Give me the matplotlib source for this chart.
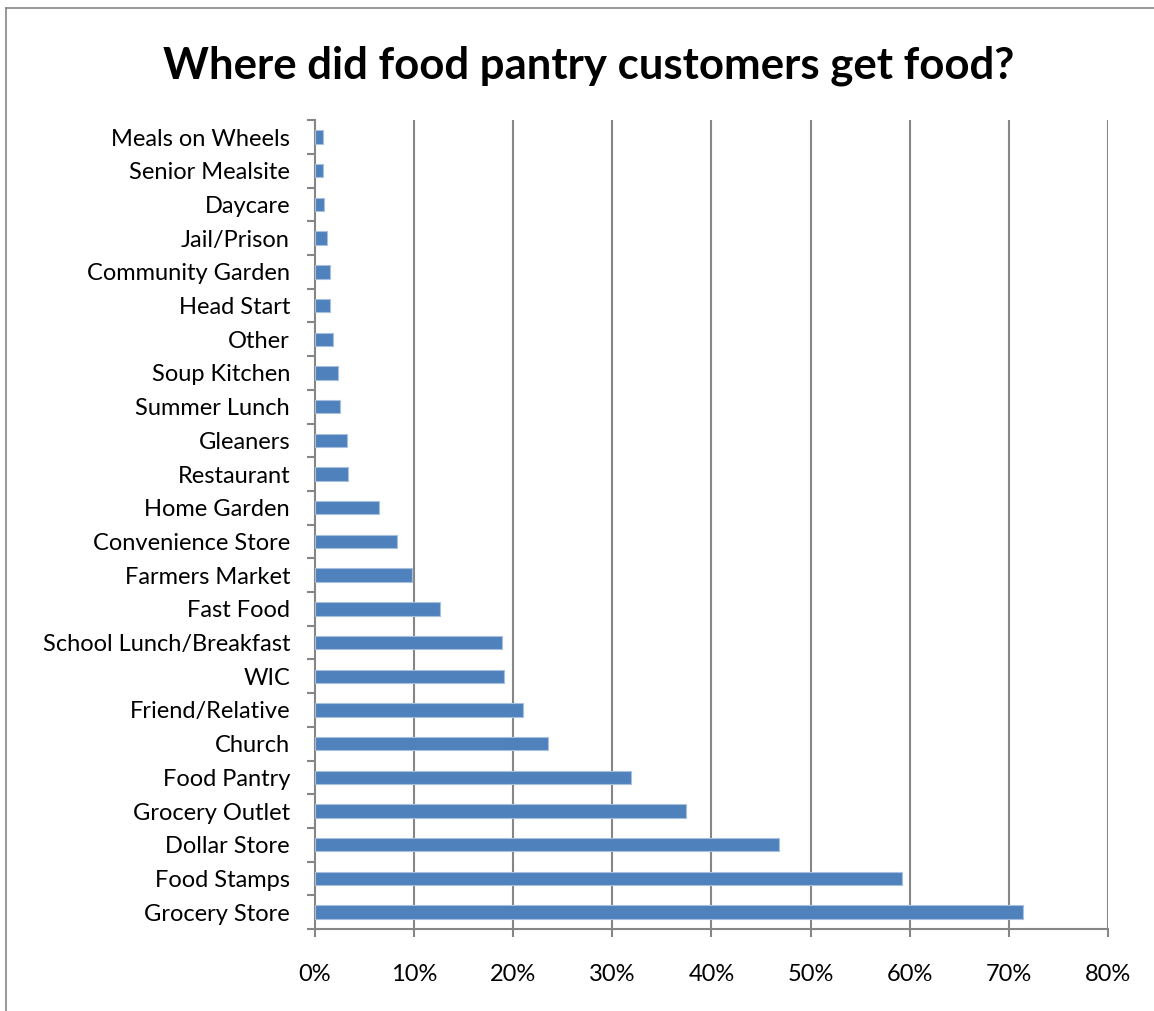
import matplotlib.pyplot as plt
from matplotlib.lines import Line2D
from matplotlib.ticker import FixedLocator, FuncFormatter
import numpy as np

BAR_BLUE, BAR_EDGE, GRID_GRAY = "#4F81BD", "#A7C0DE", "#868686"

plt.rcParams.update({
    "font.family": ["Lato", "DejaVu Sans"],
    "font.size": 17,
    "figure.facecolor": "white",
})

# share of customers using each food source (top of chart first)
sources = ["Meals on Wheels", "Senior Mealsite", "Daycare", "Jail/Prison",
           "Community Garden", "Head Start", "Other", "Soup Kitchen",
           "Summer Lunch", "Gleaners", "Restaurant", "Home Garden",
           "Convenience Store", "Farmers Market", "Fast Food",
           "School Lunch/Breakfast", "WIC", "Friend/Relative", "Church",
           "Food Pantry", "Grocery Outlet", "Dollar Store", "Food Stamps",
           "Grocery Store"]
share = [0.008, 0.008, 0.009, 0.012, 0.015, 0.015, 0.018, 0.023, 0.025,
         0.032, 0.033, 0.065, 0.083, 0.098, 0.126, 0.189, 0.191, 0.210,
         0.235, 0.319, 0.374, 0.468, 0.592, 0.714]
x_ticks = [0, 0.1, 0.2, 0.3, 0.4, 0.5, 0.6, 0.7, 0.8]

fig = plt.figure(figsize=(11.54, 10.11), dpi=100)
ax = fig.add_axes([0.273, 0.0811, 0.687, 0.800])

y = np.arange(len(sources))
ax.barh(y, share, height=0.4, color=BAR_BLUE, edgecolor=BAR_EDGE,
        linewidth=0.8, zorder=3)

ax.set_xlim(0, 0.8)
ax.set_ylim(len(sources) - 0.5, -0.5)

# vertical gridlines
for v in x_ticks[1:]:
    ax.axvline(v, color=GRID_GRAY, linewidth=1.5, zorder=1)

# category ticks sit between bars, labels centred on them
ax.yaxis.set_major_locator(FixedLocator(np.arange(-0.5, len(sources), 1.0)))
ax.yaxis.set_major_formatter(FuncFormatter(lambda v, p: ""))
ax.yaxis.set_minor_locator(FixedLocator(y))
ax.set_yticklabels(sources, minor=True)
ax.tick_params(axis="y", which="major", length=6, width=1.5, color=GRID_GRAY,
               direction="out")
ax.tick_params(axis="y", which="minor", length=0, pad=18, labelsize=17)

ax.set_xticks(x_ticks)
ax.xaxis.set_major_formatter(FuncFormatter(lambda v, p: f"{v * 100:.0f}%"))
ax.tick_params(axis="x", length=6, width=1.5, color=GRID_GRAY,
               direction="out", pad=19, labelsize=17)

for side in ("top", "right"):
    ax.spines[side].set_visible(False)
for side in ("left", "bottom"):
    ax.spines[side].set_color(GRID_GRAY)
    ax.spines[side].set_linewidth(1.5)

fig.text(0.510, 0.935, "Where did food pantry customers get food?",
         ha="center", va="center", fontsize=31.5, fontweight="bold")

# chart border (left and top edges fall inside the image)
fig.add_artist(Line2D([6 / 1154, 6 / 1154], [0, 1 - 8 / 1011],
                      transform=fig.transFigure, color=GRID_GRAY, linewidth=1.2))
fig.add_artist(Line2D([6 / 1154, 1], [1 - 8 / 1011, 1 - 8 / 1011],
                      transform=fig.transFigure, color=GRID_GRAY, linewidth=1.2))

plt.savefig("out.png", dpi=100, facecolor="white")
plt.close()
